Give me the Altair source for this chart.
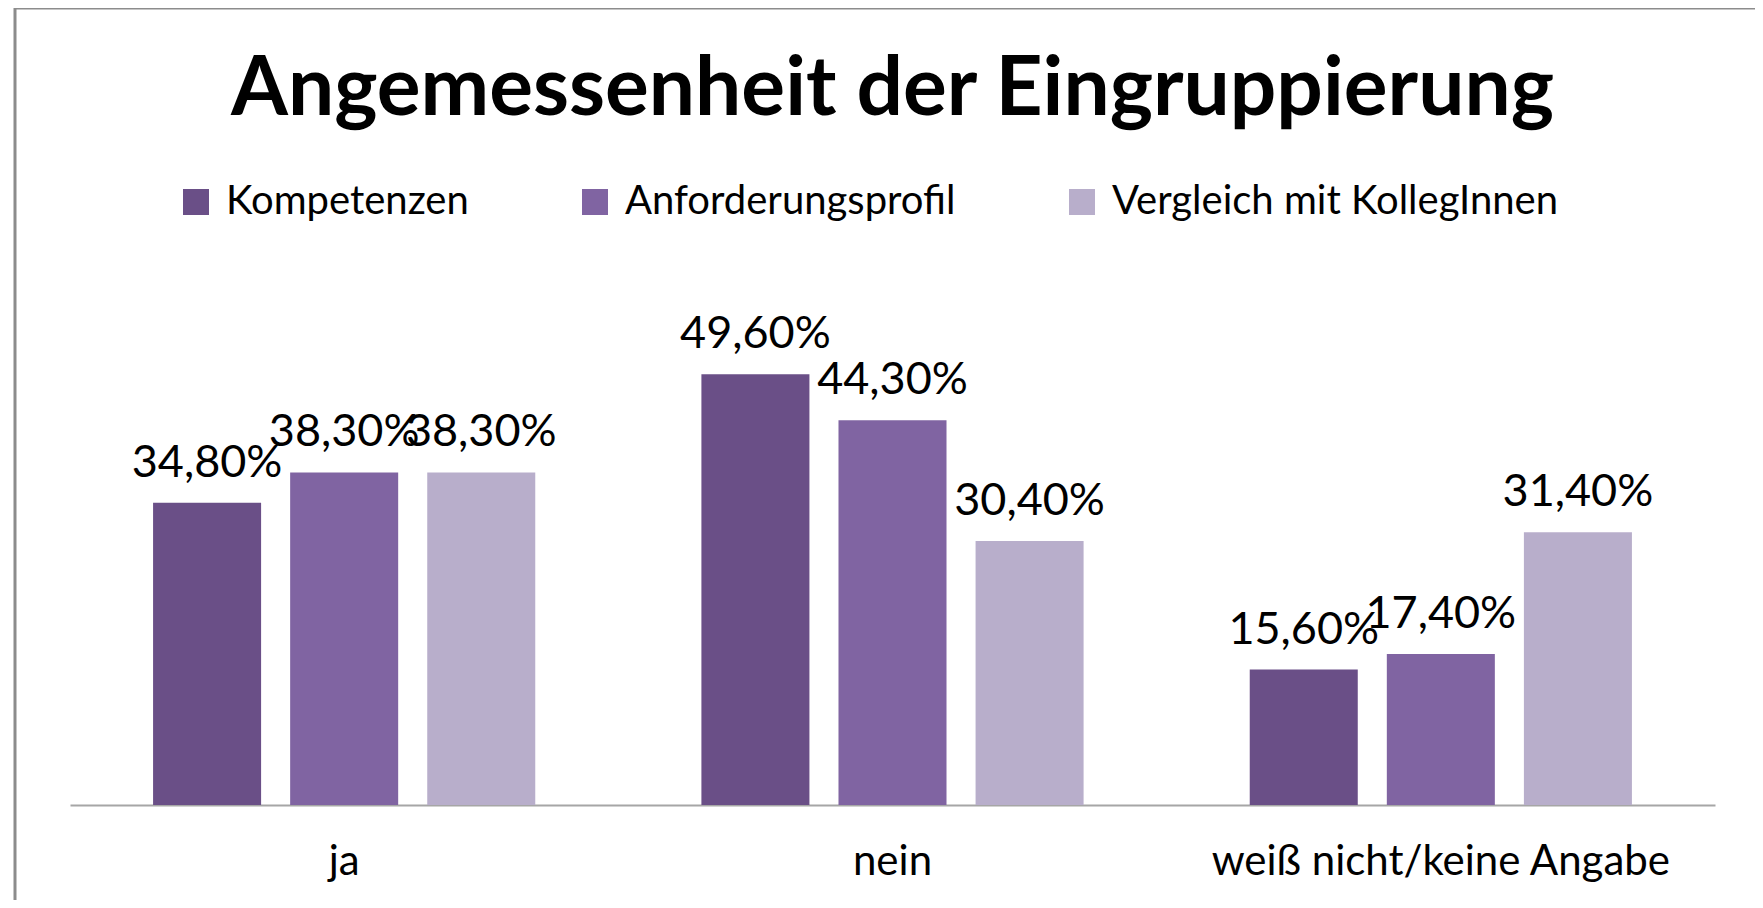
import altair as alt
import pandas as pd

categories = ["ja", "nein", "weiß nicht/keine Angabe"]
series = ["Kompetenzen", "Anforderungsprofil", "Vergleich mit KollegInnen"]
kompetenzen = [34.8, 49.6, 15.6]
anforderungsprofil = [38.3, 44.3, 17.4]
vergleich = [38.3, 30.4, 31.4]
colors = ["#6a4f87", "#8064a2", "#b8aecb"]

rows = []
for s, vals in zip(series, [kompetenzen, anforderungsprofil, vergleich]):
    for c, v in zip(categories, vals):
        rows.append({"Kategorie": c, "Reihe": s, "Wert": v,
                     "Label": f"{v:.2f}%".replace(".", ",")})
df = pd.DataFrame(rows)

W, H = 1645, 521
FONT = "Lato"

x = alt.X("Kategorie:N", sort=categories,
          scale=alt.Scale(paddingInner=0, paddingOuter=0),
          axis=alt.Axis(title=None, labelAngle=0, labelFont=FONT, labelFontSize=42,
                        labelColor="#000", labelPadding=36, ticks=False, labelLimit=0,
                        domainColor="#a6a6a6", domainWidth=2, grid=False))
y = alt.Y("Wert:Q", scale=alt.Scale(domain=[0, 60], nice=False), axis=None)
xo = alt.XOffset("Reihe:N", sort=series,
                 scale=alt.Scale(paddingInner=0.212, paddingOuter=0.606))
color = alt.Color("Reihe:N", sort=series,
                  scale=alt.Scale(domain=series, range=colors),
                  legend=alt.Legend(title=None, orient="none", direction="horizontal",
                                    legendX=106, legendY=-102, symbolType="square",
                                    symbolSize=676, symbolStrokeWidth=0,
                                    symbolOpacity=1, labelFont=FONT, labelFontSize=40,
                                    labelColor="#000", columnPadding=106, labelOffset=10,
                                    labelLimit=0))

base = alt.Chart(df)
bars = base.mark_bar().encode(x=x, y=y, xOffset=xo, color=color)
labels = base.mark_text(dy=-26, baseline="alphabetic", font=FONT, fontSize=45,
                        color="#000").encode(x=x, y=y, xOffset=xo, text="Label:N")

border = alt.Chart(pd.DataFrame({"a": [0]})).mark_rect(
    fill="transparent", stroke="#8c8c8c", strokeWidth=3).encode(
    x=alt.value(-55), x2=alt.value(1690), y=alt.value(-276), y2=alt.value(640))

chart = alt.layer(border, bars, labels).properties(
    width=W, height=H,
    padding={"left": 62, "top": 276, "right": 40, "bottom": 95},
    autosize=alt.AutoSizeParams(type="none"),
    title=alt.TitleParams("Angemessenheit der Eingruppierung", font=FONT, fontSize=82,
                          fontWeight="bold", color="#000", anchor="middle",
                          offset=-190, baseline="alphabetic"),
).configure_view(stroke=None)

chart.save("out.html", embed_options={"renderer": "svg", "actions": False})
